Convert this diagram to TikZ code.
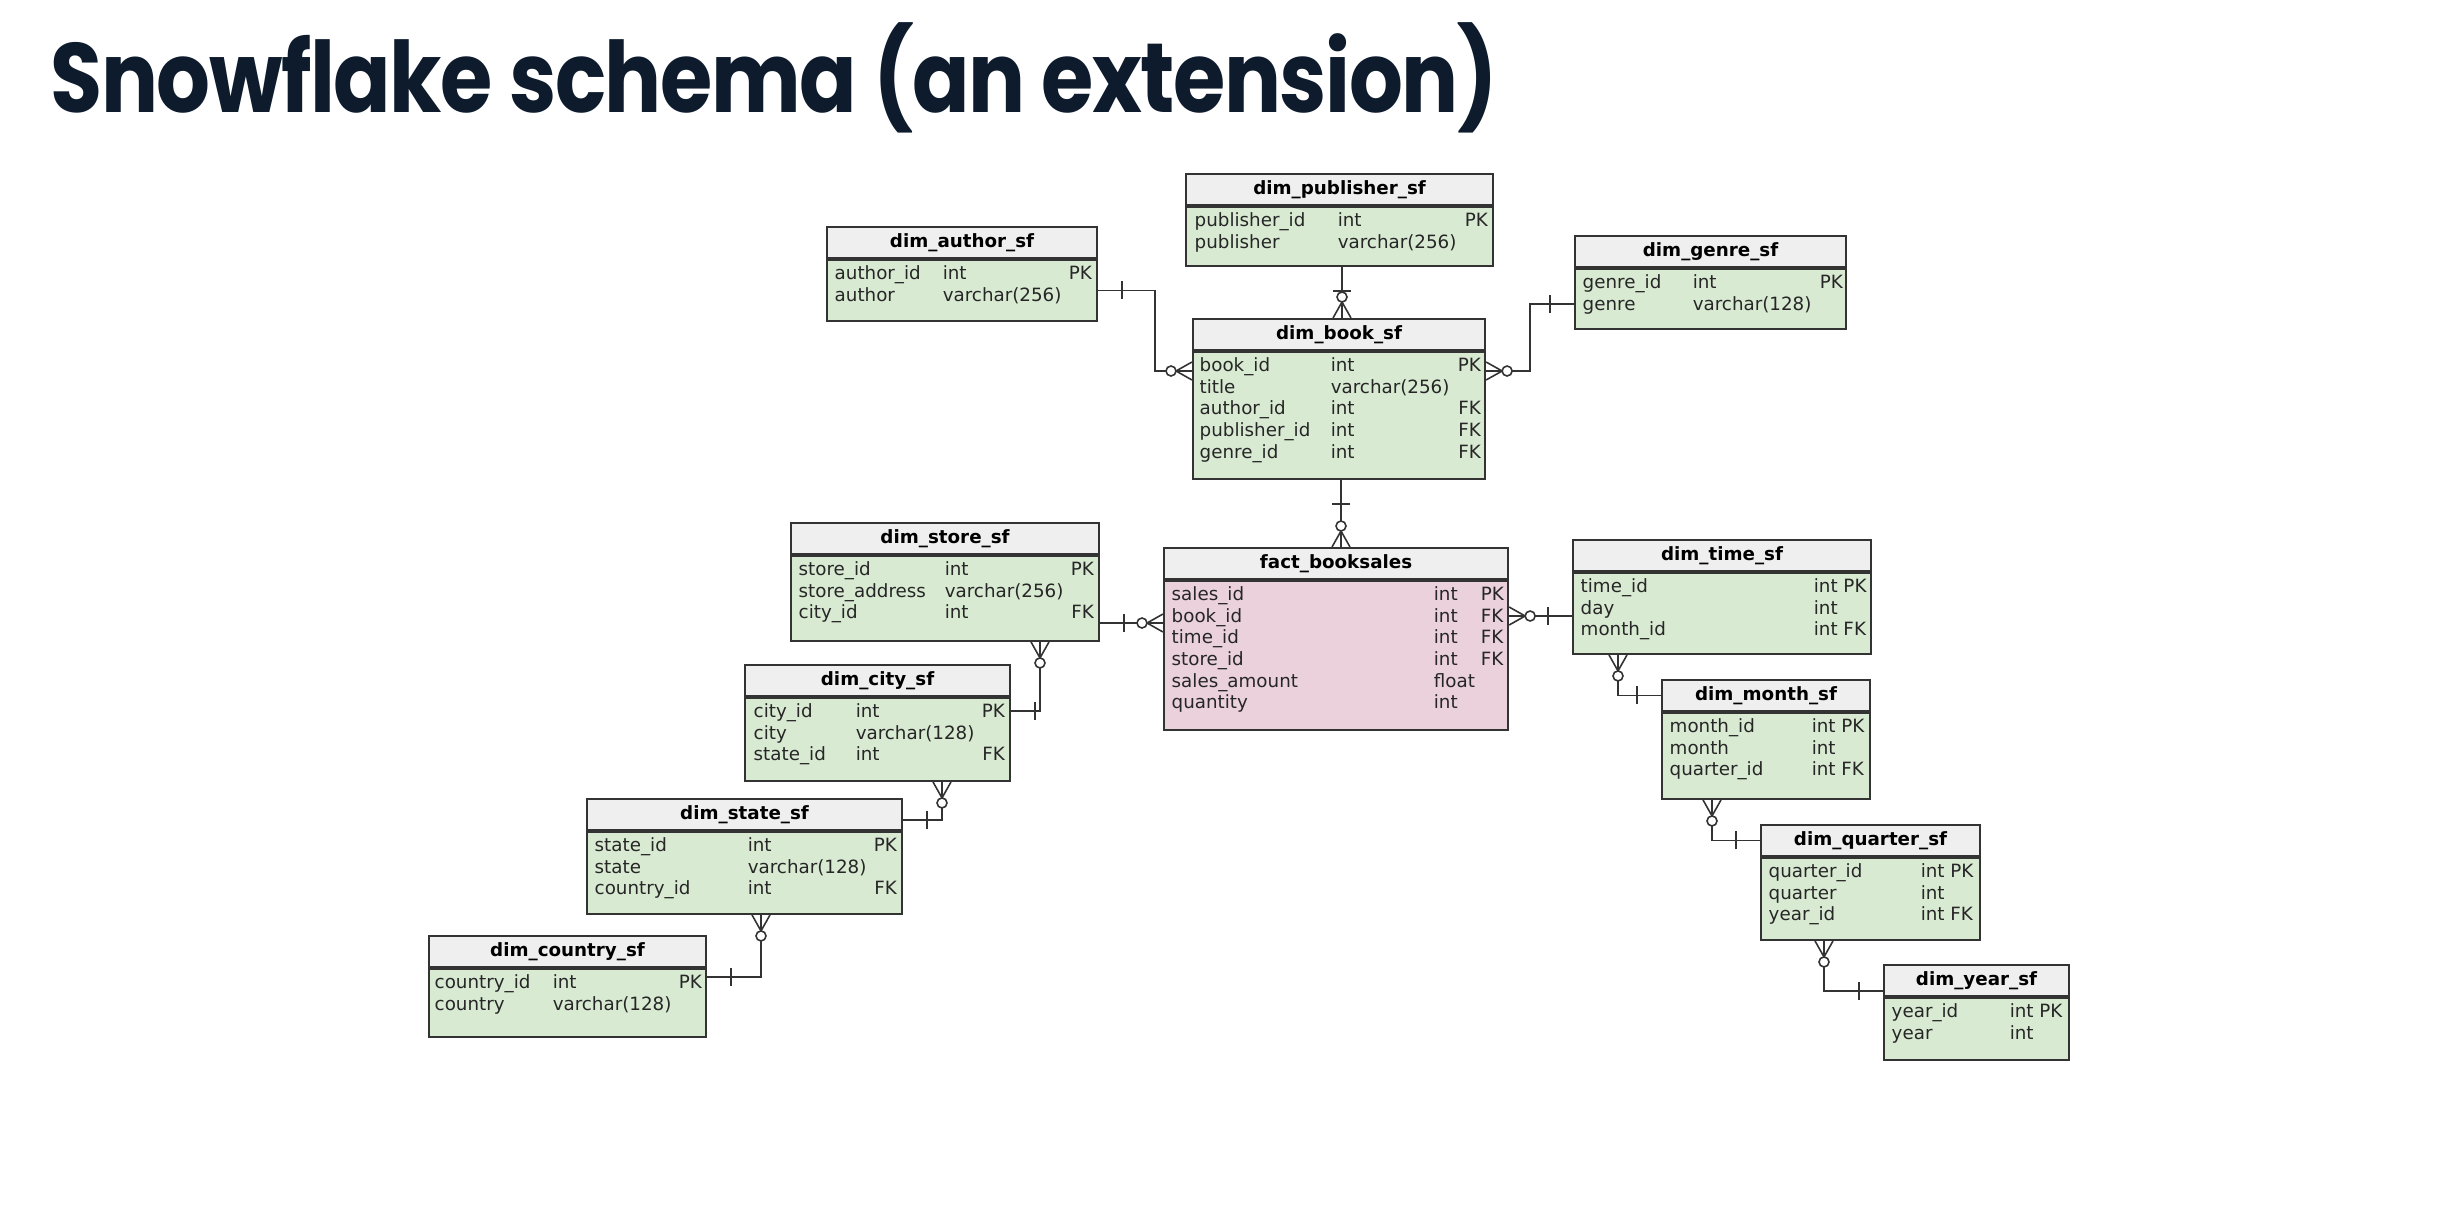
\documentclass[tikz,border=0pt]{standalone}
\usepackage{fontspec}
\setmainfont{DejaVu Sans}
\newfontfamily\titlefont{Poppins}[FakeStretch=0.86, LetterSpace=-1.5]
\usepackage{array}
\definecolor{hdrgray}{HTML}{EFEFEF}
\definecolor{dimgreen}{HTML}{D9EAD3}
\definecolor{factpink}{HTML}{EAD1DC}
\definecolor{linegray}{HTML}{333333}
\definecolor{titleblue}{HTML}{0D1B2D}
\newcommand{\tfont}{\fontsize{5.2}{6.17}\selectfont}
\tikzset{
  hdr/.style={draw=linegray, line width=0.55pt, fill=hdrgray, anchor=north west, minimum height=0.31cm, inner sep=0pt, font={\tfont\bfseries}},
  dimbody/.style={draw=linegray, line width=0.55pt, fill=dimgreen, anchor=north west, inner sep=0pt},
  factbody/.style={dimbody, fill=factpink},
  rows/.style={anchor=base west, inner sep=0pt, font=\tfont, text=black!85},
  link/.style={draw=linegray, line width=0.45pt},
  one/.pic={\draw[link] (24,-9) -- (24,9);},
  many/.pic={\draw[link] (0,9) -- (16,0) -- (0,-9); \draw[link, fill=white] (21,0) circle (5);}
}
\begin{document}
\begin{tikzpicture}[x=0.01cm, y=-0.01cm]
    \useasboundingbox (0,0) rectangle (2454,1224);
    \fill[white] (0,0) rectangle (2454,1224);
    \node[anchor=base west, inner sep=0pt, text=titleblue, font={\titlefont\bfseries\fontsize{28}{30}\selectfont}] (title) at (50,112) {Snowflake schema (an extension)};

    \node[hdr, minimum width=2.70cm] (author-h) at (826,226) {dim\_author\_sf};
    \node[dimbody, minimum width=2.70cm, minimum height=0.61cm] (author) at (author-h.south west) {};
    \node[rows] (author-r) at (834,279.5) {\begin{tabular}[t]{@{}w{l}{1.08cm}@{}w{l}{1.19cm}@{}w{r}{0.30cm}@{}}
        author\_id & int & PK\\ author & varchar(256) & \end{tabular}};

    \node[hdr, minimum width=3.07cm] (pub-h) at (1185,173) {dim\_publisher\_sf};
    \node[dimbody, minimum width=3.07cm, minimum height=0.59cm] (pub) at (pub-h.south west) {};
    \node[rows] (pub-r) at (1194,226.5) {\begin{tabular}[t]{@{}w{l}{1.43cm}@{}w{l}{1.20cm}@{}w{r}{0.30cm}@{}}
        publisher\_id & int & PK\\ publisher & varchar(256) & \end{tabular}};

    \node[hdr, minimum width=2.71cm] (genre-h) at (1574,235) {dim\_genre\_sf};
    \node[dimbody, minimum width=2.71cm, minimum height=0.60cm] (genre) at (genre-h.south west) {};
    \node[rows] (genre-r) at (1582,288.5) {\begin{tabular}[t]{@{}w{l}{1.10cm}@{}w{l}{1.20cm}@{}w{r}{0.30cm}@{}}
        genre\_id & int & PK\\ genre & varchar(128) & \end{tabular}};

    \node[hdr, minimum width=2.92cm] (book-h) at (1192,318) {dim\_book\_sf};
    \node[dimbody, minimum width=2.92cm, minimum height=1.27cm] (book) at (book-h.south west) {};
    \node[rows] (book-r) at (1199,371.5) {\begin{tabular}[t]{@{}w{l}{1.31cm}@{}w{l}{1.20cm}@{}w{r}{0.30cm}@{}}
        book\_id & int & PK\\ title & varchar(256) & \\ author\_id & int & FK\\
        publisher\_id & int & FK\\ genre\_id & int & FK\end{tabular}};

    \node[hdr, minimum width=3.08cm] (store-h) at (790,522) {dim\_store\_sf};
    \node[dimbody, minimum width=3.08cm, minimum height=0.85cm] (store) at (store-h.south west) {};
    \node[rows] (store-r) at (798,575.5) {\begin{tabular}[t]{@{}w{l}{1.46cm}@{}w{l}{1.19cm}@{}w{r}{0.30cm}@{}}
        store\_id & int & PK\\ store\_address & varchar(256) & \\ city\_id & int & FK\end{tabular}};

    \node[hdr, minimum width=3.44cm] (fact-h) at (1163,547) {fact\_booksales};
    \node[factbody, minimum width=3.44cm, minimum height=1.49cm] (fact) at (fact-h.south west) {};
    \node[rows] (fact-r) at (1171,600.5) {\begin{tabular}[t]{@{}w{l}{2.62cm}@{}w{l}{0.47cm}@{}l@{}}
        sales\_id & int & PK\\ book\_id & int & FK\\ time\_id & int & FK\\ store\_id & int & FK\\
        sales\_amount & float & \\ quantity & int & \end{tabular}};

    \node[hdr, minimum width=2.98cm] (time-h) at (1572,539) {dim\_time\_sf};
    \node[dimbody, minimum width=2.98cm, minimum height=0.81cm] (time) at (time-h.south west) {};
    \node[rows] (time-r) at (1580,592.5) {\begin{tabular}[t]{@{}w{l}{2.33cm}@{}l@{}}
        time\_id & int PK\\ day & int\\ month\_id & int FK\end{tabular}};

    \node[hdr, minimum width=2.08cm] (month-h) at (1661,679) {dim\_month\_sf};
    \node[dimbody, minimum width=2.08cm, minimum height=0.86cm] (month) at (month-h.south west) {};
    \node[rows] (month-r) at (1669,732.5) {\begin{tabular}[t]{@{}w{l}{1.42cm}@{}l@{}}
        month\_id & int PK\\ month & int\\ quarter\_id & int FK\end{tabular}};

    \node[hdr, minimum width=2.19cm] (quarter-h) at (1760,824) {dim\_quarter\_sf};
    \node[dimbody, minimum width=2.19cm, minimum height=0.82cm] (quarter) at (quarter-h.south west) {};
    \node[rows] (quarter-r) at (1768,877.5) {\begin{tabular}[t]{@{}w{l}{1.52cm}@{}l@{}}
        quarter\_id & int PK\\ quarter & int\\ year\_id & int FK\end{tabular}};

    \node[hdr, minimum width=1.85cm] (year-h) at (1883,964) {dim\_year\_sf};
    \node[dimbody, minimum width=1.85cm, minimum height=0.62cm] (year) at (year-h.south west) {};
    \node[rows] (year-r) at (1891,1017.5) {\begin{tabular}[t]{@{}w{l}{1.18cm}@{}l@{}}
        year\_id & int PK\\ year & int\end{tabular}};

    \node[hdr, minimum width=2.65cm] (city-h) at (744,664) {dim\_city\_sf};
    \node[dimbody, minimum width=2.65cm, minimum height=0.83cm] (city) at (city-h.south west) {};
    \node[rows] (city-r) at (753,717.5) {\begin{tabular}[t]{@{}w{l}{1.02cm}@{}w{l}{1.19cm}@{}w{r}{0.30cm}@{}}
        city\_id & int & PK\\ city & varchar(128) & \\ state\_id & int & FK\end{tabular}};

    \node[hdr, minimum width=3.15cm] (state-h) at (586,798) {dim\_state\_sf};
    \node[dimbody, minimum width=3.15cm, minimum height=0.82cm] (state) at (state-h.south west) {};
    \node[rows] (state-r) at (594,851.5) {\begin{tabular}[t]{@{}w{l}{1.53cm}@{}w{l}{1.19cm}@{}w{r}{0.30cm}@{}}
        state\_id & int & PK\\ state & varchar(128) & \\ country\_id & int & FK\end{tabular}};

    \node[hdr, minimum width=2.77cm] (country-h) at (428,935) {dim\_country\_sf};
    \node[dimbody, minimum width=2.77cm, minimum height=0.68cm] (country) at (country-h.south west) {};
    \node[rows] (country-r) at (434,988.5) {\begin{tabular}[t]{@{}w{l}{1.18cm}@{}w{l}{1.19cm}@{}w{r}{0.30cm}@{}}
        country\_id & int & PK\\ country & varchar(128) & \end{tabular}};

    \draw[link] (author.east) -| (1155,371) -- (book.west |- 0,371);
    \pic at (author.east) {one};
    \pic[rotate=180] at (book.west |- 0,371) {many};

    \draw[link] (1342,0 |- pub.south) -- (1342,0 |- book-h.north);
    \pic[rotate=-90] at (1342,0 |- pub.south) {one};
    \pic[rotate=90] at (1342,0 |- book-h.north) {many};

    \draw[link] (genre.west |- 0,304) -| (1530,371) -- (book.east |- 0,371);
    \pic[rotate=180] at (genre.west |- 0,304) {one};
    \pic at (book.east |- 0,371) {many};

    \draw[link] (1341,0 |- book.south) -- (1341,0 |- fact-h.north);
    \pic[rotate=-90] at (1341,0 |- book.south) {one};
    \pic[rotate=90] at (1341,0 |- fact-h.north) {many};

    \draw[link] (store.east |- 0,623) -- (fact.west |- 0,623);
    \pic at (store.east |- 0,623) {one};
    \pic[rotate=180] at (fact.west |- 0,623) {many};

    \draw[link] (time.west |- 0,616) -- (fact.east |- 0,616);
    \pic[rotate=180] at (time.west |- 0,616) {one};
    \pic at (fact.east |- 0,616) {many};

    \draw[link] (1040,0 |- store.south) |- (city.east |- 0,711);
    \pic[rotate=-90] at (1040,0 |- store.south) {many};
    \pic at (city.east |- 0,711) {one};

    \draw[link] (942,0 |- city.south) |- (state-h.east |- 0,820);
    \pic[rotate=-90] at (942,0 |- city.south) {many};
    \pic at (state-h.east |- 0,820) {one};

    \draw[link] (761,0 |- state.south) |- (country.east |- 0,977);
    \pic[rotate=-90] at (761,0 |- state.south) {many};
    \pic at (country.east |- 0,977) {one};

    \draw[link] (1618,0 |- time.south) |- (month-h.west);
    \pic[rotate=-90] at (1618,0 |- time.south) {many};
    \pic[rotate=180] at (month-h.west) {one};

    \draw[link] (1712,0 |- month.south) |- (quarter-h.west);
    \pic[rotate=-90] at (1712,0 |- month.south) {many};
    \pic[rotate=180] at (quarter-h.west) {one};

    \draw[link] (1824,0 |- quarter.south) |- (year-h.west |- 0,991);
    \pic[rotate=-90] at (1824,0 |- quarter.south) {many};
    \pic[rotate=180] at (year-h.west |- 0,991) {one};
\end{tikzpicture}
\end{document}
